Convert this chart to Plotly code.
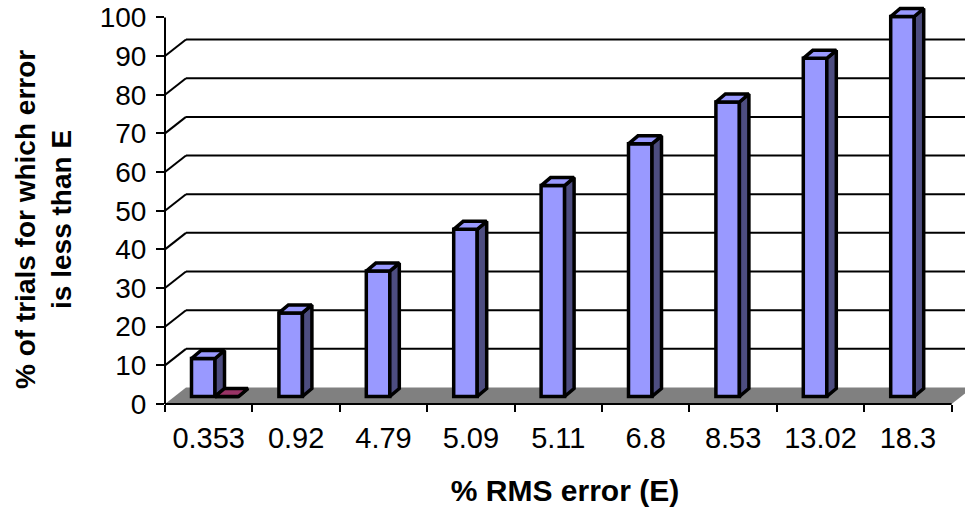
import plotly.graph_objects as go

# ---- data -------------------------------------------------------------
rms_error_labels = ["0.353", "0.92", "4.79", "5.09", "5.11", "6.8", "8.53", "13.02", "18.3"]
pct_trials = [10, 22, 33, 44, 55.5, 66.5, 77.5, 89, 100]
second_series = [0, None, None, None, None, None, None, None, None]
y_ticks = [0, 10, 20, 30, 40, 50, 60, 70, 80, 90, 100]

# ---- pseudo-3D geometry (in axis units) -----------------------------------
PX_CAT = 87.4          # pixels per category
PX_VAL = 3.866         # pixels per value unit on the front (axis) plane
PX_VAL_BAR = 3.8       # pixels per value unit on the bar plane
PLOT_W, PLOT_H = 800, 404
BAR_PLANE_LIFT = 7.5   # px the bar plane floor sits above the front edge

wall_dx = 21 / PX_CAT
wall_dy = 16.5 / PX_VAL
bar_off = 26.5 / PX_CAT
bar_w = 23.5 / PX_CAT
face_dx = 9.5 / PX_CAT
face_dy = 8 / PX_VAL_BAR

n_cat = len(rms_error_labels)
x_max = PLOT_W / PX_CAT
FONT = "Liberation Sans, Arial, sans-serif"
OUTLINE = 3.5

BLUE = "#9999ff"
BLUE_SIDE = "#4d4d80"
PLUM = "#993366"

fig = go.Figure()


def box_faces(xs, vals):
    """Side and top face outlines for columns whose front-left x is xs."""
    side_x, side_y, top_x, top_y = [], [], [], []
    for x0, v in zip(xs, vals):
        if v is None:
            continue
        x1 = x0 + bar_w
        side_x += [x1, x1 + face_dx, x1 + face_dx, x1, x1, None]
        side_y += [0, face_dy, v + face_dy, v, 0, None]
        top_x += [x0, x1, x1 + face_dx, x0 + face_dx, x0, None]
        top_y += [v, v, v + face_dy, v + face_dy, v, None]
    return side_x, side_y, top_x, top_y


series = [
    (pct_trials, 0, BLUE, BLUE_SIDE, BLUE),
    (second_series, 1, PLUM, "#4d1a33", PLUM),
]

for vals, slot, front_col, side_col, top_col in series:
    xs = [i + bar_off + slot * bar_w for i in range(n_cat)]
    fig.add_trace(go.Bar(
        x=[x + bar_w / 2 for x in xs], y=vals, base=0, width=bar_w,
        yaxis="y2",
        marker=dict(color=front_col, line=dict(color="black", width=OUTLINE)),
        showlegend=False, hoverinfo="skip",
    ))

for vals, slot, front_col, side_col, top_col in series:
    xs = [i + bar_off + slot * bar_w for i in range(n_cat)]
    sx, sy, tx, ty = box_faces(xs, vals)
    fig.add_trace(go.Scatter(
        x=sx, y=sy, yaxis="y2", mode="lines", fill="toself",
        fillcolor=side_col, line=dict(color="black", width=OUTLINE),
        showlegend=False, hoverinfo="skip",
    ))
    fig.add_trace(go.Scatter(
        x=tx, y=ty, yaxis="y2", mode="lines", fill="toself",
        fillcolor=top_col, line=dict(color="black", width=OUTLINE),
        showlegend=False, hoverinfo="skip",
    ))

# ---- walls, floor and axis lines ---------------------------------------
shapes = []
# floor
shapes.append(dict(
    type="path", xref="x", yref="y", layer="below",
    path=f"M 0,0 L {n_cat},0 L {n_cat + wall_dx},{wall_dy} L {wall_dx},{wall_dy} Z",
    fillcolor="#808080", line=dict(width=0),
))
# back-wall gridlines and side-wall diagonals
for v in y_ticks[1:-1]:
    shapes.append(dict(
        type="line", xref="x", yref="y", layer="below",
        x0=wall_dx, y0=v + wall_dy, x1=n_cat + wall_dx, y1=v + wall_dy,
        line=dict(color="black", width=2),
    ))
    shapes.append(dict(
        type="line", xref="x", yref="y", layer="below",
        x0=0, y0=v, x1=wall_dx, y1=v + wall_dy,
        line=dict(color="black", width=2),
    ))
# category axis line along the front edge of the floor
shapes.append(dict(
    type="line", xref="x", yref="paper", layer="above",
    x0=0, y0=0, x1=n_cat, y1=0, line=dict(color="black", width=2),
))
# value axis line
shapes.append(dict(
    type="line", xref="paper", yref="y", layer="above",
    x0=0, y0=0, x1=0, y1=y_ticks[-1], line=dict(color="black", width=2),
))

fig.update_layout(
    width=965, height=510,
    margin=dict(l=165, r=0, t=0, b=106, autoexpand=False),
    paper_bgcolor="white", plot_bgcolor="white",
    barmode="overlay", hovermode=False, showlegend=False,
    font=dict(family=FONT, color="black"),
    shapes=shapes,
    xaxis=dict(
        range=[0, x_max], showgrid=False, zeroline=False, showline=False,
        tickmode="array", tickvals=[i + 0.5 for i in range(n_cat)],
        ticktext=rms_error_labels, ticks="",
        tickfont=dict(size=29, family=FONT), ticklabelstandoff=14,
        minor=dict(tickmode="array", tickvals=list(range(n_cat + 1)),
                   ticks="outside", ticklen=7, tickwidth=2, tickcolor="black"),
        title=dict(text="% RMS error (E)", standoff=26,
                   font=dict(size=30, family=FONT, weight="bold")),
    ),
    yaxis=dict(
        range=[0, PLOT_H / PX_VAL], showgrid=False, zeroline=False, showline=False,
        tickmode="array", tickvals=y_ticks, ticks="outside", ticklen=8,
        tickwidth=2, tickcolor="black",
        tickfont=dict(size=28, family=FONT), ticklabelstandoff=4,
    ),
    yaxis2=dict(
        overlaying="y",
        range=[-BAR_PLANE_LIFT / PX_VAL_BAR, (PLOT_H - BAR_PLANE_LIFT) / PX_VAL_BAR],
        visible=False,
    ),
    annotations=[dict(
        text="% of trials for which error<br>is less than E",
        xref="paper", yref="paper", x=(43 - 165) / PLOT_W, y=(404 - 220) / PLOT_H,
        xanchor="center", yanchor="middle", textangle=-90, showarrow=False,
        font=dict(size=28, family=FONT, weight="bold"),
    )],
)

fig.write_html("out.html")
